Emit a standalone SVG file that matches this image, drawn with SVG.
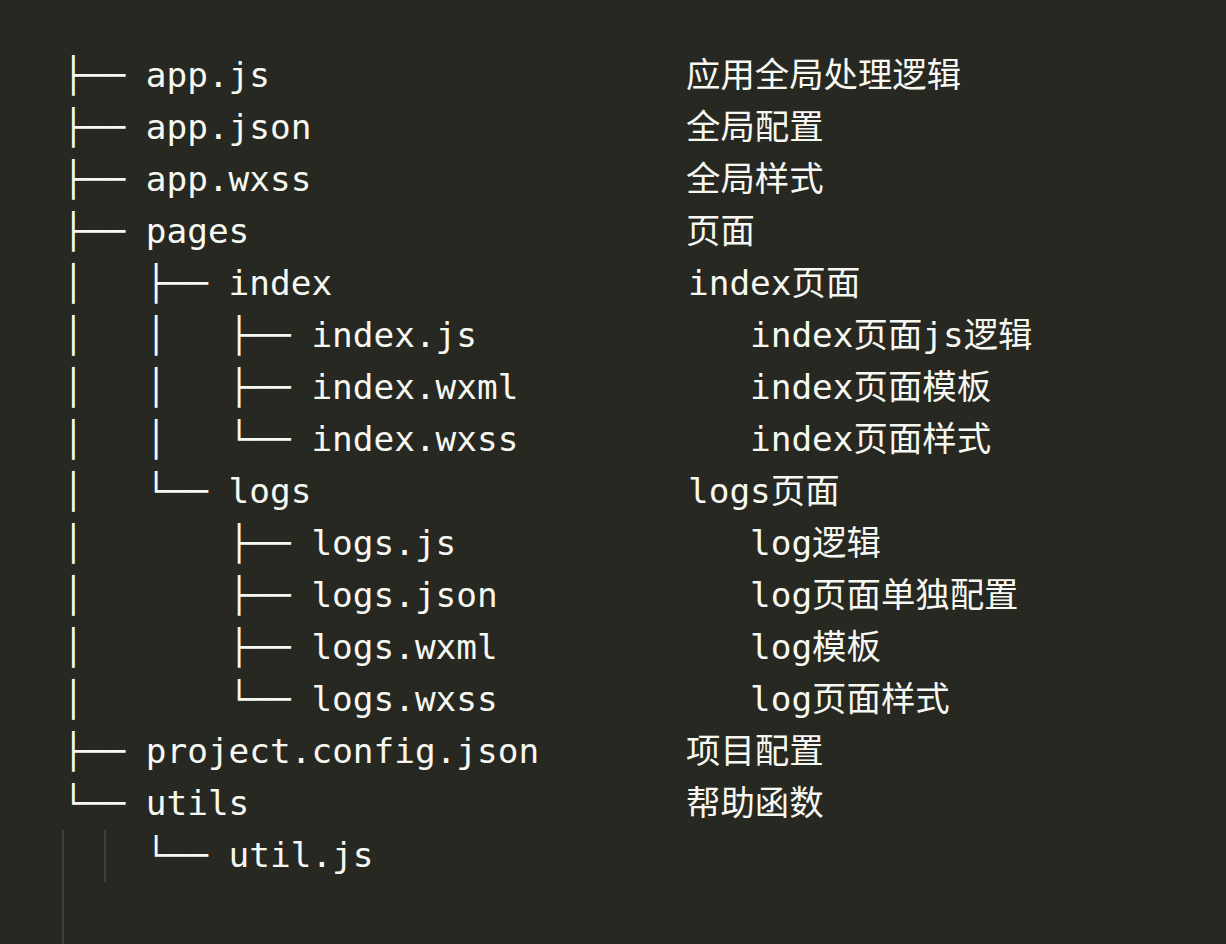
<svg xmlns="http://www.w3.org/2000/svg" width="1226" height="944" viewBox="0 0 1226 944" xml:space="preserve">
<style>
.bg{fill:#272822}
text{font-family:"DejaVu Sans Mono","Liberation Mono","Noto Sans CJK SC",monospace;font-size:34.4px;fill:#F8F8F2;white-space:pre}
.c{font-family:"DejaVu Sans Mono","Noto Sans CJK SC",monospace}
.guide{stroke:#4a4a44;stroke-width:1.5;fill:none}
</style>
<rect class="bg" x="0" y="0" width="1226" height="944"/>
<g id="guides">
<line class="guide" x1="63" y1="830" x2="63" y2="944"/>
<line class="guide" x1="105" y1="830" x2="105" y2="882"/>
</g>
<g id="connectors">
<text x="63" y="87">├──</text>
<text x="63" y="139">├──</text>
<text x="63" y="191">├──</text>
<text x="63" y="243">├──</text>
<text x="63" y="295">│   ├──</text>
<text x="63" y="347">│   │   ├──</text>
<text x="63" y="399">│   │   ├──</text>
<text x="63" y="451">│   │   └──</text>
<text x="63" y="503">│   └──</text>
<text x="63" y="555">│       ├──</text>
<text x="63" y="607">│       ├──</text>
<text x="63" y="659">│       ├──</text>
<text x="63" y="711">│       └──</text>
<text x="63" y="763">├──</text>
<text x="63" y="815">└──</text>
<text x="63" y="867">    └──</text>
</g>
<g id="app-js"><text x="145.8" y="87">app.js</text><text class="c" x="686" y="87">应用全局处理逻辑</text></g>
<g id="app-json"><text x="145.8" y="139">app.json</text><text class="c" x="686" y="139">全局配置</text></g>
<g id="app-wxss"><text x="145.8" y="191">app.wxss</text><text class="c" x="686" y="191">全局样式</text></g>
<g id="pages"><text x="145.8" y="243">pages</text><text class="c" x="686" y="243">页面</text></g>
<g id="index"><text x="228.6" y="295">index</text><text class="c" x="688" y="295">index页面</text></g>
<g id="index-js"><text x="311.4" y="347">index.js</text><text class="c" x="750" y="347">index页面js逻辑</text></g>
<g id="index-wxml"><text x="311.4" y="399">index.wxml</text><text class="c" x="750" y="399">index页面模板</text></g>
<g id="index-wxss"><text x="311.4" y="451">index.wxss</text><text class="c" x="750" y="451">index页面样式</text></g>
<g id="logs"><text x="228.6" y="503">logs</text><text class="c" x="688" y="503">logs页面</text></g>
<g id="logs-js"><text x="311.4" y="555">logs.js</text><text class="c" x="750" y="555">log逻辑</text></g>
<g id="logs-json"><text x="311.4" y="607">logs.json</text><text class="c" x="750" y="607">log页面单独配置</text></g>
<g id="logs-wxml"><text x="311.4" y="659">logs.wxml</text><text class="c" x="750" y="659">log模板</text></g>
<g id="logs-wxss"><text x="311.4" y="711">logs.wxss</text><text class="c" x="750" y="711">log页面样式</text></g>
<g id="project-config"><text x="145.8" y="763">project.config.json</text><text class="c" x="686" y="763">项目配置</text></g>
<g id="utils"><text x="145.8" y="815">utils</text><text class="c" x="686" y="815">帮助函数</text></g>
<g id="util-js"><text x="228.6" y="867">util.js</text></g>
</svg>
